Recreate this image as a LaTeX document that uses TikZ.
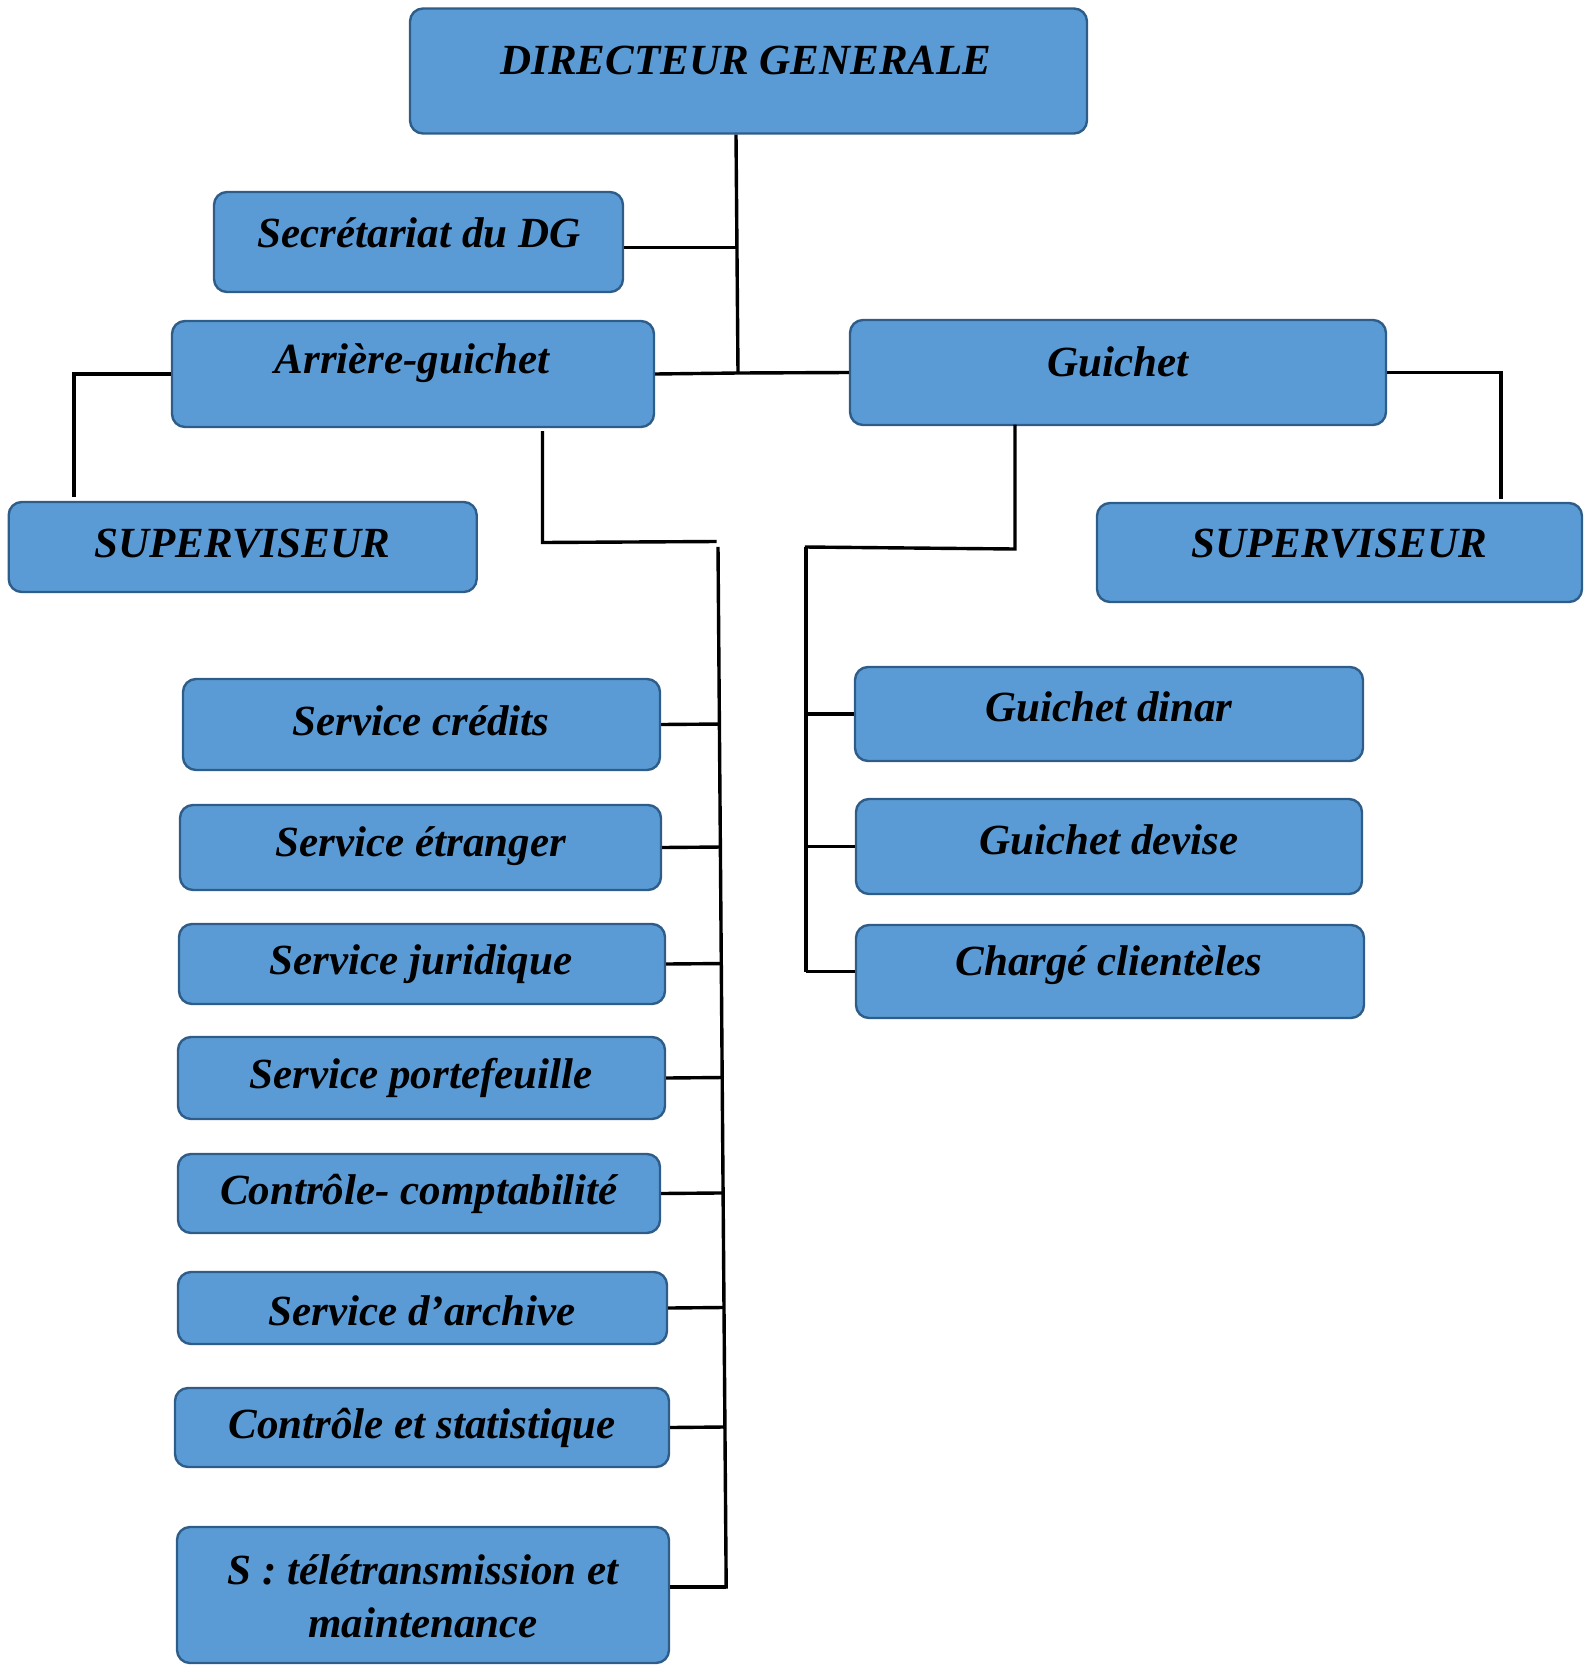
\documentclass[tikz,border=0pt]{standalone}
\usepackage{fontspec}
\setmainfont{Liberation Serif}
\usetikzlibrary{calc}
\definecolor{boxfill}{HTML}{5B9BD5}
\definecolor{boxline}{HTML}{2F5D8A}
\tikzset{
  box/.style={draw=boxline, fill=boxfill, line width=2.4pt, rounded corners=13pt, inner sep=0pt},
  lbl/.style={font=\fontsize{43}{51}\selectfont\bfseries\itshape, inner sep=0pt, align=center},
  conn/.style={draw=black, line width=3.4pt}
}
\begin{document}
\begin{tikzpicture}[x=1pt,y=-1pt]
\useasboundingbox (0,0) rectangle (1583,1665);
% boxes
\node[box, minimum width=677pt, minimum height=125pt] (dg) at (748.5,71) {};
\node[box, minimum width=409pt, minimum height=100pt] (sec) at (418.5,242) {};
\node[box, minimum width=482pt, minimum height=106pt] (ag) at (413,374) {};
\node[box, minimum width=536pt, minimum height=105pt] (gu) at (1118,372.5) {};
\node[box, minimum width=468pt, minimum height=90pt] (supl) at (242.7,547) {};
\node[box, minimum width=485pt, minimum height=99pt] (supr) at (1339.5,552.5) {};
\node[box, minimum width=477pt, minimum height=91pt] (s1) at (421.5,724.5) {};
\node[box, minimum width=481pt, minimum height=85pt] (s2) at (420.5,847.5) {};
\node[box, minimum width=486pt, minimum height=80pt] (s3) at (422,964) {};
\node[box, minimum width=487pt, minimum height=82pt] (s4) at (421.5,1078) {};
\node[box, minimum width=482pt, minimum height=79pt] (s5) at (419,1193.5) {};
\node[box, minimum width=489pt, minimum height=72pt] (s6) at (422.5,1308) {};
\node[box, minimum width=494pt, minimum height=79pt] (s7) at (422,1427.5) {};
\node[box, minimum width=492pt, minimum height=136pt] (s8) at (423,1595) {};
\node[box, minimum width=508pt, minimum height=94pt] (g1) at (1109,714) {};
\node[box, minimum width=506pt, minimum height=95pt] (g2) at (1109,846.5) {};
\node[box, minimum width=508pt, minimum height=93pt] (g3) at (1110,971.5) {};
% labels
\node[lbl] (tdg) at (746,60.5) {DIRECTEUR GENERALE};
\node[lbl] (tsec) at (419,232.5) {Secrétariat du DG};
\node[lbl] (tag) at (412,363) {Arrière-guichet};
\node[lbl] (tgu) at (1118,362) {Guichet};
\node[lbl] (tsupl) at (242,543.6) {SUPERVISEUR};
\node[lbl] (tsupr) at (1339,543.6) {SUPERVISEUR};
\node[lbl] (ts1) at (421,721) {Service crédits};
\node[lbl] (ts2) at (421,846) {Service étranger};
\node[lbl] (ts3) at (421,964) {Service juridique};
\node[lbl] (ts4) at (421,1077.6) {Service portefeuille};
\node[lbl] (ts5) at (419,1194.4) {Contrôle- comptabilité};
\node[lbl] (ts6) at (422,1311) {Service d’archive};
\node[lbl] (ts7) at (422,1428) {Contrôle et statistique};
\node[lbl] (ts8a) at (423,1570) {S : télétransmission et};
\node[lbl] (ts8b) at (423,1623) {maintenance};
\node[lbl] (tg1) at (1109,707) {Guichet dinar};
\node[lbl] (tg2) at (1109,840) {Guichet devise};
\node[lbl] (tg3) at (1109,965) {Chargé clientèles};
% coordinates
\coordinate (dgb) at (736,134);
\coordinate (secj) at (736,247.4);
\coordinate (tj) at (738,373);
\coordinate (supLtop) at (74,497);
\coordinate (supRtop) at (1501,499);
\coordinate (agb) at (542.5,431);
\coordinate (agc) at (542.5,542.5);
\coordinate (agd) at (716.6,541.5);
\coordinate (tTop) at (718,546.8);
\coordinate (tBot) at (726.2,1588.5);
\coordinate (s8j) at (726.2,1587);
\coordinate (gub) at (1015,424.7);
\coordinate (guc) at (1015,549);
\coordinate (gud) at (804.8,547);
\coordinate (rTop) at (805.8,546.8);
\coordinate (rBot) at (805.8,971.5);
% connectors
\draw[conn] (dg.south -| dgb) -- (tj);
\draw[conn] (sec.east |- secj) -- (secj);
\draw[conn] (ag.east) -- (tj) -- (gu.west);
\draw[conn] (ag.west) -| (supLtop);
\draw[conn] (gu.east) -| (supRtop);
\draw[conn] (agb) -- (agc) -- (agd);
\draw[conn] (tTop) -- (tBot);
\foreach \n in {s1,s2,s3,s4,s5,s6,s7}
  \draw[conn] (\n.east) -- ($(tTop)!(\n.east)!(tBot)$);
\draw[conn] (s8.east |- s8j) -- (s8j);
\draw[conn] (gub) -- (guc) -- (gud);
\draw[conn] (rTop) -- (rBot);
\foreach \n in {g1,g2,g3}
  \draw[conn] (\n.west) -- ($(rTop)!(\n.west)!(rBot)$);
\end{tikzpicture}
\end{document}
